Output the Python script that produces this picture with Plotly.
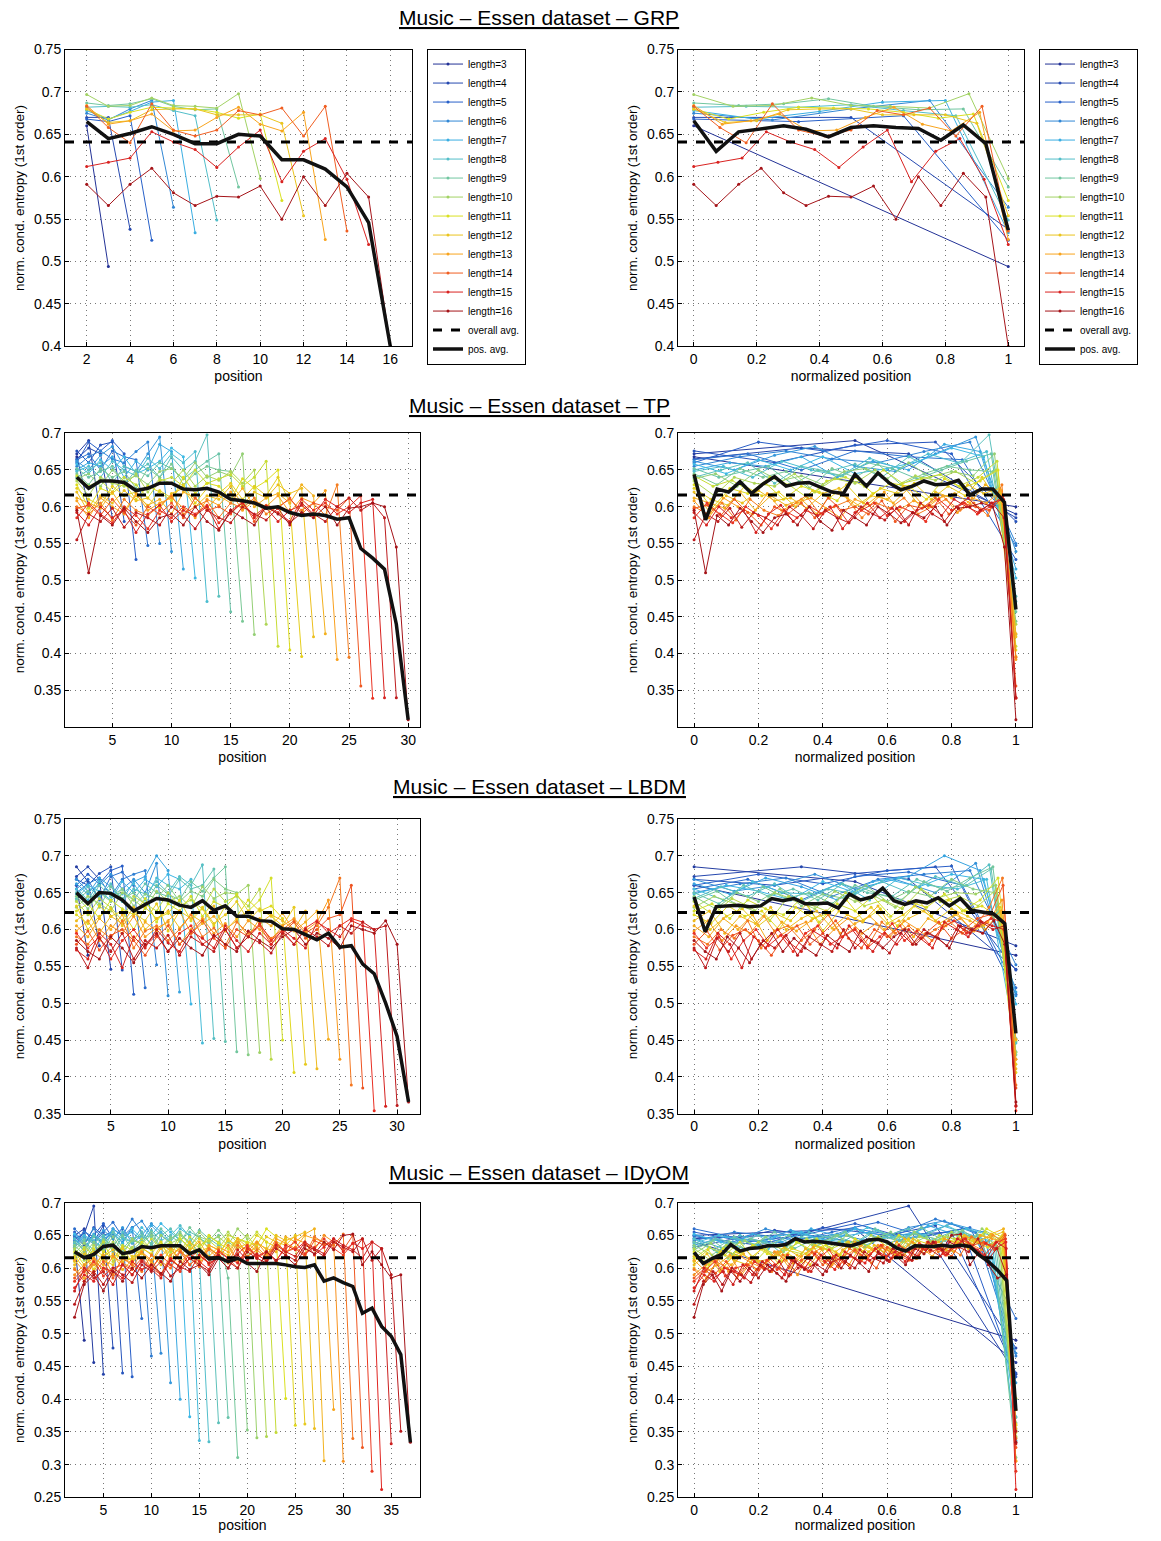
import plotly.graph_objects as go

W, H = 1161, 1541
PAD = 8  # page margin around the figure
FW, FH = W - 2 * PAD, H - 2 * PAD

# ---- data (entropy values in thousandths, first value at position 2, last = final position) ----
grp_lengths = list(range(3, 17))
grp_series = [
    "660 494",
    "670 670 538",
    "668 665 672 525",
    "675 667 680 690 564",
    "678 668 677 688 690 534",
    "682 683 682 685 678 672 549",
    "687 684 686 692 683 679 680 588",
    "697 683 684 693 684 683 681 698 598",
    "680 668 676 682 681 680 676 669 674 572",
    "680 664 666 679 680 680 673 673 673 663 554",
    "684 662 666 674 654 655 670 682 662 654 676 526",
    "683 658 640 686 655 648 655 678 673 681 648 683 536",
    "612 617 622 653 641 632 611 635 655 594 630 645 597 520",
    "591 566 591 610 581 566 577 576 589 550 600 566 604 576 400",
]
grp_avg = [665, 645, 651, 659, 650, 639, 639, 650, 648, 620, 620, 609, 588, 546, 400]
grp_avg_norm = [666, 630, 653, 656, 660, 656, 647, 658, 660, 658, 657, 643, 661, 639, 537]
grp_overall = 0.641

tp_lengths = list(range(3, 31))
tp_series = [
    "668 600",
    "672 690 590",
    "665 680 672 585",
    "676 660 684 688 580",
    "660 688 676 690 672 528",
    "664 672 650 676 668 664 547",
    "655 668 676 665 660 675 688 550",
    "662 650 670 682 655 648 672 695 539",
    "650 660 655 668 640 662 650 685 675 515",
    "658 645 664 650 668 645 652 662 680 668 503",
    "648 655 640 662 650 642 666 652 672 660 675 471",
    "640 650 660 632 655 648 658 640 668 650 662 698 478",
    "652 640 648 655 630 650 642 660 652 638 650 662 672 457",
    "645 630 652 640 648 625 652 640 658 630 645 655 650 648 444",
    "638 645 628 650 635 642 630 648 652 638 660 640 648 642 672 426",
    "635 615 640 632 628 645 620 638 632 650 628 642 636 648 632 650 440",
    "642 628 636 620 640 630 612 635 640 628 650 632 638 644 628 640 662 410",
    "630 598 625 618 632 610 628 620 608 640 618 632 628 610 638 625 635 650 405",
    "625 610 602 628 615 620 600 622 612 630 605 625 618 632 610 628 615 640 605 396",
    "620 592 615 605 622 608 612 598 618 625 600 615 610 628 602 620 612 630 618 625 423",
    "612 605 598 620 595 615 602 610 590 620 612 598 615 605 625 600 612 618 605 630 615 427",
    "608 585 612 600 590 618 595 605 612 598 585 610 602 620 595 608 600 615 592 612 605 622 392",
    "600 590 605 582 610 595 588 602 615 590 600 608 585 605 598 612 590 600 610 595 605 588 630 395",
    "598 602 588 610 592 575 600 590 605 585 612 595 600 590 608 580 602 598 612 590 605 600 595 612 356",
    "585 605 590 578 600 588 570 595 585 600 590 602 578 595 605 588 600 592 580 610 595 605 590 600 615 339",
    "592 575 600 585 595 565 590 602 580 595 588 600 570 592 605 585 598 580 595 602 588 610 600 592 605 610 340",
    "555 590 580 598 572 592 585 575 600 588 570 595 585 578 600 590 582 598 575 605 590 580 600 612 595 605 585 340",
    "595 510 588 575 598 580 565 585 590 575 600 580 568 595 585 575 600 590 578 592 585 600 575 598 600 605 600 545 310",
]
tp_avg = [640, 625, 635, 635, 633, 622, 625, 632, 632, 624, 623, 625, 620, 610, 608,
          605, 598, 600, 592, 588, 590, 588, 583, 585, 543, 530, 515, 440, 310]
tp_avg_norm = [644, 582, 624, 620, 634, 618, 631, 641, 628, 632, 633, 626, 620, 618, 644,
               628, 646, 632, 623, 628, 635, 630, 631, 636, 616, 624, 624, 606, 460]
tp_overall = 0.616

lbdm_lengths = list(range(3, 32))
lbdm_series = [
    "660 565",
    "685 665 578",
    "672 685 668 546",
    "668 660 676 685 545",
    "660 675 662 680 686 512",
    "655 668 640 672 678 660 521",
    "650 662 670 645 668 675 680 552",
    "668 652 660 675 655 668 650 690 510",
    "662 648 670 658 640 665 672 700 680 515",
    "648 660 652 640 665 650 668 658 675 668 499",
    "655 640 665 650 648 662 640 670 660 655 668 446",
    "642 658 645 662 638 655 648 665 650 672 660 688 452",
    "650 635 660 645 655 640 662 650 645 668 655 660 682 448",
    "640 652 630 658 642 650 635 660 648 640 665 652 670 685 434",
    "645 628 650 638 655 632 648 642 660 638 652 645 668 655 650 430",
    "630 645 635 625 650 640 628 652 638 645 630 658 642 650 648 660 433",
    "638 620 642 630 612 645 635 625 650 632 640 628 655 638 645 632 655 424",
    "625 635 615 640 628 620 642 610 635 625 645 618 638 630 648 625 640 670 450",
    "620 608 632 618 625 600 630 615 622 640 612 628 605 632 618 640 625 632 615 406",
    "632 600 618 628 605 622 612 635 598 625 615 630 608 620 638 612 628 618 605 630 417",
    "612 625 595 618 608 630 600 615 625 602 620 610 632 598 615 625 608 620 612 600 625 411",
    "605 590 615 600 620 585 610 598 612 625 595 608 618 600 612 590 615 605 622 598 610 625 451",
    "598 612 585 605 595 618 590 602 610 580 600 615 595 608 590 612 600 585 605 615 598 610 640 424",
    "590 580 600 588 612 575 598 605 585 600 620 590 602 578 610 595 605 588 600 612 595 605 630 670 389",
    "580 598 572 592 600 585 565 590 605 580 595 612 588 575 600 590 605 580 595 610 588 600 615 620 660 385",
    "595 575 590 560 585 600 578 592 570 595 605 580 590 600 575 590 608 585 598 580 602 612 595 605 615 610 354",
    "572 560 595 580 548 590 575 600 582 570 598 588 575 605 585 570 595 580 600 588 575 610 600 590 612 605 600 360",
    "575 548 588 570 595 560 585 575 592 565 590 580 570 600 575 590 582 568 595 580 600 590 578 605 595 610 600 605 361",
    "585 570 560 590 575 555 580 595 570 588 575 565 592 580 570 598 585 575 590 600 580 595 588 575 605 600 595 612 580 366",
]
lbdm_avg = [650, 635, 650, 649, 640, 625, 634, 642, 640, 633, 630, 639, 626, 632, 618,
            618, 612, 611, 601, 600, 593, 586, 595, 576, 578, 553, 540, 500, 455, 366]
lbdm_avg_norm = [644, 597, 631, 632, 633, 631, 632, 642, 639, 642, 635, 635, 636, 629, 648,
                 640, 644, 656, 639, 634, 639, 636, 643, 632, 642, 626, 624, 621, 608, 459]
lbdm_overall = 0.623

idyom_lengths = list(range(3, 38))
idyom_series = [
    "640 490",
    "650 660 456",
    "645 652 695 438",
    "632 658 640 665 478",
    "648 635 662 650 655 440",
    "655 640 650 668 645 660 434",
    "660 645 638 655 670 648 662 523",
    "642 655 648 638 660 650 675 655 466",
    "650 638 660 645 652 640 662 672 650 470",
    "635 648 640 658 645 662 638 650 668 655 425",
    "645 630 652 640 660 648 655 642 665 650 640 400",
    "652 640 628 648 655 638 660 645 650 668 655 642 373",
    "638 650 642 630 655 645 640 662 648 655 640 660 650 337",
    "645 625 650 640 632 655 645 638 658 642 650 665 648 615 335",
    "632 645 638 650 625 648 640 655 635 650 660 642 655 648 630 364",
    "640 628 648 635 655 630 645 650 638 660 645 652 640 658 645 635 372",
    "628 642 620 645 635 650 628 640 655 632 648 640 662 645 638 650 585 311",
    "635 620 640 628 648 625 642 638 650 630 645 655 635 648 642 658 640 630 353",
    "622 638 615 642 630 620 645 635 628 650 638 645 630 655 640 648 635 660 645 341",
    "630 612 635 625 640 618 632 645 628 640 625 650 638 632 648 640 655 638 650 630 343",
    "615 632 620 640 610 635 628 622 645 630 640 625 648 635 642 630 650 645 638 655 640 349",
    "625 605 630 618 635 622 610 640 628 635 620 645 632 625 650 638 630 645 640 635 660 648 401",
    "610 628 598 625 615 632 608 630 622 640 612 635 625 645 630 620 642 635 628 650 640 632 645 360",
    "618 600 625 612 605 630 618 622 610 635 628 615 640 625 632 620 645 630 638 625 648 640 635 650 362",
    "605 622 595 618 628 610 615 632 620 605 630 625 640 612 635 628 620 645 632 640 628 650 642 648 655 355",
    "600 585 615 605 622 598 612 625 608 630 615 602 628 640 618 632 625 645 615 638 630 625 648 640 652 660 306",
    "612 595 605 620 590 615 608 625 600 618 632 610 622 605 635 628 615 640 625 632 618 645 638 630 650 645 640 384",
    "590 605 615 595 618 608 600 625 612 590 620 630 605 618 628 615 635 610 625 640 622 632 620 645 638 628 650 640 305",
    "598 580 610 600 590 615 605 595 620 610 600 625 615 602 630 620 608 635 618 628 615 640 625 632 620 648 638 635 652 340",
    "585 600 592 610 585 605 598 615 600 590 612 625 605 618 608 628 615 600 632 620 612 638 625 630 618 642 635 640 628 650 326",
    "580 595 610 588 600 605 590 612 598 620 605 595 615 628 605 618 610 622 635 615 625 612 630 640 622 632 645 630 620 638 645 290",
    "570 590 580 600 595 585 610 598 605 590 615 600 622 610 598 625 615 608 630 618 625 610 635 628 640 620 632 645 625 638 630 640 262",
    "565 600 585 595 575 605 590 610 598 585 612 602 595 620 608 615 600 628 612 622 610 635 625 618 640 630 622 645 635 628 615 640 630 332",
    "545 580 595 575 600 590 578 605 595 610 588 600 615 605 595 620 610 600 625 615 608 630 620 612 635 628 618 640 632 625 645 612 630 590 351",
    "525 575 590 565 595 580 600 585 605 592 580 610 598 605 590 615 600 620 608 595 625 612 618 605 630 622 640 628 650 652 605 625 605 585 590 334",
]
idyom_avg = [625, 616, 621, 633, 635, 622, 625, 633, 631, 634, 634, 634, 622, 628, 614, 616, 610, 615,
             607, 607, 608, 607, 605, 602, 601, 605, 580, 585, 578, 572, 531, 539, 511, 496, 468, 334]
idyom_avg_norm = [624, 607, 615, 621, 636, 626, 630, 631, 634, 634, 636, 645, 640, 641, 640, 638, 635, 634,
                  638, 643, 644, 640, 631, 626, 634, 634, 633, 635, 633, 635, 633, 620, 610, 597, 581, 382]
idyom_overall = 0.616

rows = [
    ("GRP", grp_lengths, grp_series, grp_avg, grp_avg_norm, grp_overall,
     [1, 17], [0.4, 0.75], [2, 4, 6, 8, 10, 12, 14, 16], [0.4, 0.45, 0.5, 0.55, 0.6, 0.65, 0.7, 0.75]),
    ("TP", tp_lengths, tp_series, tp_avg, tp_avg_norm, tp_overall,
     [1, 31], [0.3, 0.7], [5, 10, 15, 20, 25, 30], [0.35, 0.4, 0.45, 0.5, 0.55, 0.6, 0.65, 0.7]),
    ("LBDM", lbdm_lengths, lbdm_series, lbdm_avg, lbdm_avg_norm, lbdm_overall,
     [1, 32], [0.35, 0.75], [5, 10, 15, 20, 25, 30], [0.35, 0.4, 0.45, 0.5, 0.55, 0.6, 0.65, 0.7, 0.75]),
    ("IDyOM", idyom_lengths, idyom_series, idyom_avg, idyom_avg_norm, idyom_overall,
     [1, 38], [0.25, 0.7], [5, 10, 15, 20, 25, 30, 35], [0.25, 0.3, 0.35, 0.4, 0.45, 0.5, 0.55, 0.6, 0.65, 0.7]),
]

# pixel boxes (page coords) of each row: (top, bottom, title_y)
row_px = [(49, 346, 17), (433, 727, 405), (819, 1114, 787), (1203, 1498, 1173)]
left_px = [(65, 412), (65, 420), (65, 420), (65, 420)]
right_px = [(678, 1024), (678, 1032), (678, 1032), (678, 1032)]

# jet-like colour stops
stops = [(0.0, (35, 50, 150)), (0.15, (40, 95, 200)), (0.33, (60, 185, 230)), (0.48, (120, 200, 150)),
         (0.62, (220, 225, 30)), (0.78, (250, 160, 30)), (0.9, (232, 40, 35)), (1.0, (165, 20, 25))]


def jet(t):
    for (a, ca), (b, cb) in zip(stops[:-1], stops[1:]):
        if t <= b:
            f = (t - a) / (b - a)
            c = [round(ca[i] + f * (cb[i] - ca[i])) for i in range(3)]
            return "rgb(%d,%d,%d)" % tuple(c)
    return "rgb(%d,%d,%d)" % stops[-1][1]


def vals(s):
    return [int(v) / 1000 for v in s.split()]


def fx(px):
    return (px - PAD) / FW


def fy(px):
    # vertical correction measured from the rendered page
    px = (px - 7.5) / 0.989
    return 1 - (px - PAD) / FH


fig = go.Figure()
font = "Liberation Sans, Arial, sans-serif"

for r, (name, lengths, series, avg, avg_norm, overall, xr, yr, xt, yt) in enumerate(rows):
    top, bot, ty = row_px[r]
    ax_l, ax_r = 2 * r + 1, 2 * r + 2
    n = len(lengths)
    for panel, ax in ((0, ax_l), (1, ax_r)):
        xa = "x" if ax == 1 else "x%d" % ax
        ya = "y" if ax == 1 else "y%d" % ax
        leg = "legend" if panel == 0 else "legend2"
        for i, (L, s) in enumerate(zip(lengths, series)):
            y = vals(s)
            if panel == 0:
                x = list(range(2, 2 + len(y)))
            else:
                x = [k / (len(y) - 1) for k in range(len(y))]
            col = jet(i / (n - 1))
            fig.add_trace(go.Scatter(x=x, y=y, mode="lines+markers", name="length=%d" % L,
                                     line=dict(color=col, width=1), marker=dict(color=col, size=3),
                                     xaxis=xa, yaxis=ya, legend=leg, showlegend=(r == 0)))
        fig.add_trace(go.Scatter(x=xr if panel == 0 else [-0.05, 1.05], y=[overall, overall], mode="lines",
                                 name="overall avg.", line=dict(color="black", width=3, dash="dash"),
                                 xaxis=xa, yaxis=ya, legend=leg, showlegend=(r == 0)))
        a = [v / 1000 for v in (avg if panel == 0 else avg_norm)]
        if panel == 0:
            ax_x = list(range(2, 2 + len(a)))
        else:
            ax_x = [k / (len(a) - 1) for k in range(len(a))]
        fig.add_trace(go.Scatter(x=ax_x, y=a, mode="lines", name="pos. avg.",
                                 line=dict(color="#111111", width=3.5),
                                 xaxis=xa, yaxis=ya, legend=leg, showlegend=(r == 0)))

        px0, px1 = (left_px[r] if panel == 0 else right_px[r])
        common = dict(showline=True, linecolor="black", linewidth=1, mirror=True,
                      ticks="inside", ticklen=4, tickcolor="black",
                      showgrid=True, gridcolor="#777777", griddash="1px,4px", gridwidth=1,
                      zeroline=False, tickfont=dict(size=14, color="black", family=font))
        xkey = "xaxis" if ax == 1 else "xaxis%d" % ax
        ykey = "yaxis" if ax == 1 else "yaxis%d" % ax
        fig.update_layout({
            xkey: dict(common, domain=[fx(px0), fx(px1)], range=xr if panel == 0 else [-0.05, 1.05],
                       tickvals=xt if panel == 0 else [0, 0.2, 0.4, 0.6, 0.8, 1],
                       ticktext=None if panel == 0 else ["0", "0.2", "0.4", "0.6", "0.8", "1"],
                       anchor=ya,
                       title=dict(text="position" if panel == 0 else "normalized position",
                                  font=dict(size=14, color="black", family=font), standoff=5)),
            ykey: dict(common, domain=[fy(bot), fy(top)], range=yr, tickvals=yt,
                       ticktext=[("%.2f" % v).rstrip("0").rstrip(".") for v in yt],
                       anchor=xa,
                       title=dict(text="norm. cond. entropy (1st order)",
                                  font=dict(size=13.5, color="black", family=font), standoff=6)),
        })
    fig.add_annotation(text="<u>Music – Essen dataset – %s</u>" % name, x=fx(539), y=fy(ty),
                       xref="paper", yref="paper", showarrow=False, xanchor="center", yanchor="middle",
                       font=dict(size=21, color="black", family=font))

legend_style = dict(bordercolor="black", borderwidth=1, bgcolor="white", font=dict(size=10, family=font, color="black"),
                    tracegroupgap=0, itemwidth=30, xanchor="left", yanchor="top", yref="paper", xref="paper")
fig.update_layout(
    width=FW, height=FH, margin=dict(l=0, r=0, t=0, b=0),
    paper_bgcolor="white", plot_bgcolor="white",
    legend=dict(legend_style, x=fx(427), y=fy(48)),
    legend2=dict(legend_style, x=fx(1039), y=fy(48)),
)

fig.write_html("out.html")
